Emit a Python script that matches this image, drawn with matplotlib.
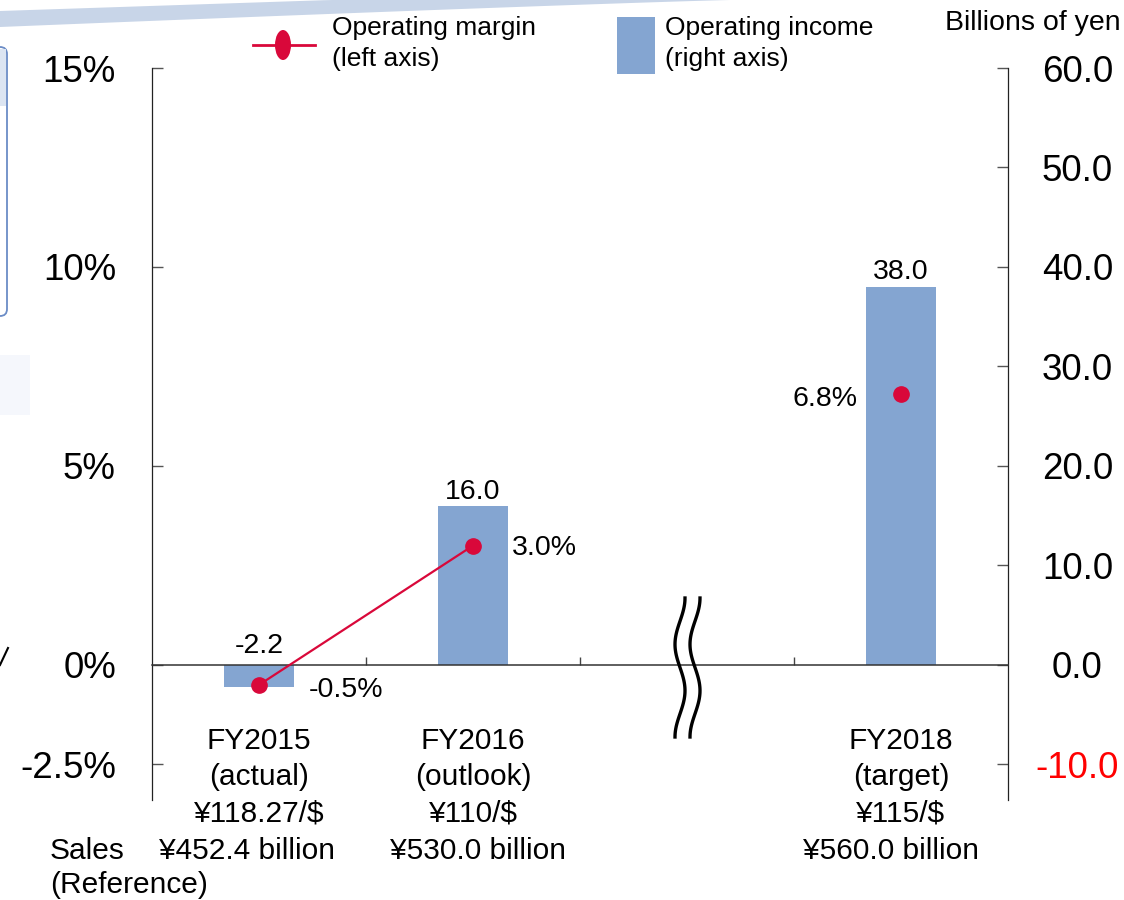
import matplotlib
matplotlib.use('Agg')
import matplotlib.pyplot as plt
import matplotlib.transforms as mtransforms
from matplotlib.patches import Rectangle, Ellipse, Polygon, FancyBboxPatch
from matplotlib.lines import Line2D
import numpy as np

# ---------------- data ----------------
categories = ['FY2015', 'FY2016', 'FY2018']
status = ['(actual)', '(outlook)', '(target)']
fx_rates = ['¥118.27/$', '¥110/$', '¥115/$']
sales = ['¥452.4 billion', '¥530.0 billion', '¥560.0 billion']
operating_income = [-2.2, 16.0, 38.0]          # billions of yen (right axis)
operating_margin = [-0.5, 3.0, 6.8]            # % (left axis)
income_labels = ['-2.2', '16.0', '38.0']
margin_labels = ['-0.5%', '3.0%', '6.8%']
left_ticks = [-2.5, 0, 5, 10, 15]
left_ticklabels = ['-2.5%', '0%', '5%', '10%', '15%']
right_ticks = [-10, 0, 10, 20, 30, 40, 50, 60]
right_ticklabels = ['-10.0', '0.0', '10.0', '20.0', '30.0', '40.0', '50.0', '60.0']

# ---------------- layout / style ----------------
slot_pos = [0.5, 1.5, 3.5]        # slot 2..3 holds the axis break
FONT = 'Liberation Sans'
plt.rcParams['font.family'] = [FONT, 'DejaVu Sans']
BAR = '#84A5D1'
RED = '#D9083A'
W, H, DPI = 1124, 900, 100

fig = plt.figure(figsize=(W / DPI, H / DPI), dpi=DPI)
fig.patch.set_facecolor('white')

def P(x, y):
    """pixel (from top-left) -> inches for dpi_scale_trans"""
    return (x / DPI, (H - y) / DPI)

pt = fig.dpi_scale_trans

# decorative slide remnants
xs = np.linspace(0, 730, 80)
top = np.clip(11 * (1 - xs / 330), 0, None)
bot = 27 * np.clip(1 - xs / 730, 0, None) ** 1.1
poly = [P(x, y) for x, y in zip(xs, top)] + [P(x, y) for x, y in zip(xs[::-1], bot[::-1])]
fig.add_artist(Polygon(poly, closed=True, transform=pt, facecolor='#C8D5E8', edgecolor='none', zorder=0))
fig.add_artist(FancyBboxPatch(P(-40, 316), 47 / DPI, 269 / DPI, boxstyle='round,pad=0,rounding_size=0.07',
                              transform=pt, facecolor='white', edgecolor='#6B8CC6', lw=1.3, zorder=0))
fig.add_artist(Rectangle(P(-5, 106), 11 / DPI, 57 / DPI, transform=pt, facecolor='#DCE5F2', edgecolor='none', zorder=0))
fig.add_artist(Rectangle(P(0, 415), 30 / DPI, 60 / DPI, transform=pt, facecolor='#F5F7FC', edgecolor='none', zorder=0))
fig.add_artist(Line2D([0 / DPI, 8 / DPI], [(H - 665) / DPI, (H - 648) / DPI], transform=pt, color='black', lw=1.5))

# ---------------- axes ----------------
ax1 = fig.add_axes([152 / W, 100 / H, 856 / W, 732 / H])
ax2 = ax1.twinx()
ax1.set_zorder(ax2.get_zorder() + 1)
ax1.patch.set_visible(False)

ax1.set_xlim(0, 4)
ax1.set_ylim(-3.392, 15)
ax2.set_ylim(-3.392 * 4, 60)

# bars (right axis)
ax2.bar(slot_pos, operating_income, width=0.33, color=BAR, zorder=2)

# margin line + points (left axis)
ax1.plot(slot_pos[:2], operating_margin[:2], color=RED, lw=1.6, zorder=5)
ax1.plot(slot_pos, operating_margin, linestyle='none', marker='o', ms=11,
         color=RED, zorder=6)

# spines
for s in ['top', 'right']:
    ax1.spines[s].set_visible(False)
ax1.spines['bottom'].set_position(('data', 0))
ax1.spines['bottom'].set_color('#333333')
ax1.spines['bottom'].set_linewidth(1.1)
ax1.spines['left'].set_color('#222222')
ax1.spines['left'].set_linewidth(0.9)
for s in ['top', 'left', 'bottom']:
    ax2.spines[s].set_visible(False)
ax2.spines['right'].set_color('#222222')
ax2.spines['right'].set_linewidth(0.9)

# ticks
ax1.set_xticks([1, 2, 3])
ax1.set_xticklabels([])
ax1.tick_params(axis='x', direction='in', length=6, width=1, color='#444444')
ax1.set_yticks(left_ticks)
ax1.set_yticklabels(left_ticklabels)
ax1.tick_params(axis='y', direction='in', length=8, width=1, color='#555555',
                labelsize=26.5, pad=26)
ax2.set_yticks(right_ticks)
ax2.set_yticklabels(right_ticklabels)
ax2.tick_params(axis='y', direction='in', length=8, width=1, color='#555555',
                labelsize=26.5, pad=50)
for lab in ax2.get_yticklabels():
    lab.set_horizontalalignment('center')
ax2.get_yticklabels()[0].set_color('#FF0000')

# data labels
income_offsets = [8.5, 5, 6]  # points above zero line / bar top
for x, v, lab, off in zip(slot_pos, operating_income, income_labels, income_offsets):
    base = 0 if v < 0 else v
    ax2.annotate(lab, (x, base), xytext=(0, off), textcoords='offset points',
                 ha='center', va='baseline', fontsize=20.5)

margin_offsets = [(36, -3.5, 'left'), (28, -2, 'left'), (-31, -3, 'right')]
for x, v, lab, (dx, dy, ha) in zip(slot_pos, operating_margin, margin_labels, margin_offsets):
    ax1.annotate(lab, (x, v), xytext=(dx, dy), textcoords='offset points',
                 ha=ha, va='center', fontsize=20.5, zorder=7)

# category labels below the axis
blend = mtransforms.blended_transform_factory(ax1.transData, fig.transFigure)
rows_y = [741, 777, 814, 851]
sales_dx = [-12 / 214, 5 / 214, -10 / 214]
for i, x in enumerate(slot_pos):
    for j, txt in enumerate([categories[i], status[i], fx_rates[i]]):
        fig.text(x, 1 - rows_y[j] / H, txt, transform=blend, ha='center', va='center', fontsize=21.5)
    fig.text(x + sales_dx[i], 1 - rows_y[3] / H, sales[i], transform=blend,
             ha='center', va='center', fontsize=21.5)
fig.text(50 / W, 1 - 851 / H, 'Sales', ha='left', va='center', fontsize=21.5)
fig.text(50 / W, 1 - 885 / H, '(Reference)', ha='left', va='center', fontsize=21.5)

# axis break marks
bt = mtransforms.blended_transform_factory(ax1.transData, ax1.transAxes)
t = np.linspace(0, 1, 100)
yb = (800 - (598 + 139 * t)) / 732
for c in [2.5 - 7 / 214, 2.5 + 8 / 214]:
    xb = c + (5 / 214) * np.cos(3 * np.pi * t)
    ax1.plot(xb, yb, transform=bt, color='black', lw=2.4, clip_on=False, zorder=8)

# unit label
fig.text(1121 / W, 1 - 23 / H, 'Billions of yen', ha='right', va='center', fontsize=20.5)

# legend (drawn manually)
fig.add_artist(Line2D([253 / DPI, 315 / DPI], [(H - 45) / DPI] * 2, transform=pt, color=RED, lw=2))
fig.add_artist(Ellipse(P(283, 45), 16 / DPI, 30 / DPI, transform=pt, facecolor=RED, edgecolor='none'))
fig.text(332 / W, 1 - 28 / H, 'Operating margin', ha='left', va='center', fontsize=19)
fig.text(332 / W, 1 - 59 / H, '(left axis)', ha='left', va='center', fontsize=19)
fig.add_artist(Rectangle(P(617, 74), 38 / DPI, 57 / DPI, transform=pt, facecolor=BAR, edgecolor='none'))
fig.text(665 / W, 1 - 28 / H, 'Operating income', ha='left', va='center', fontsize=19)
fig.text(665 / W, 1 - 59 / H, '(right axis)', ha='left', va='center', fontsize=19)

fig.savefig('out.png', dpi=DPI, facecolor='white')
